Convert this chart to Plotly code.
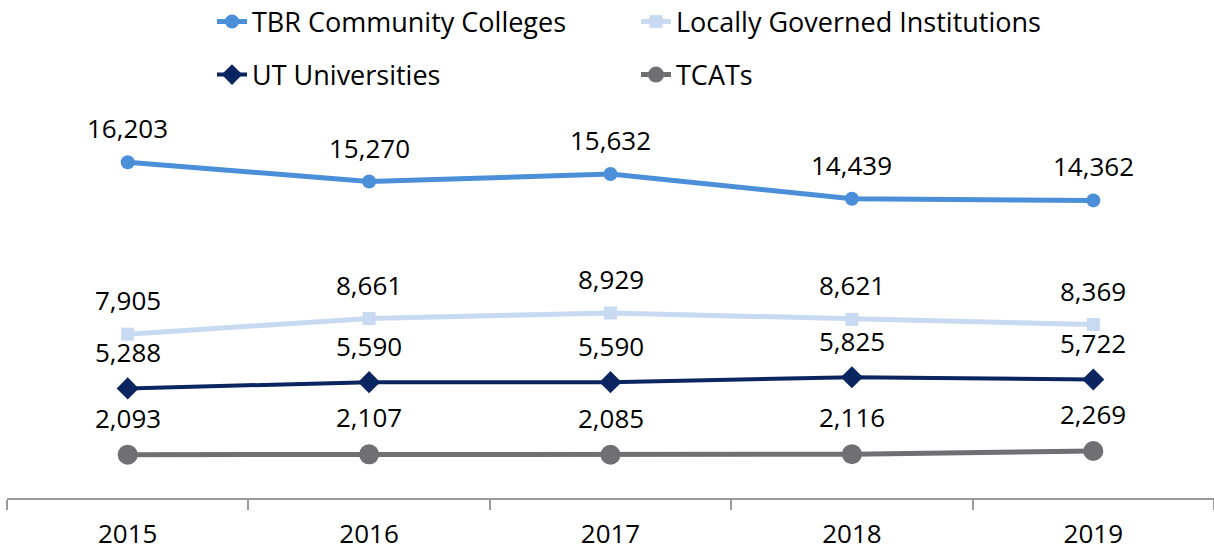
import plotly.graph_objects as go

years = ["2015", "2016", "2017", "2018", "2019"]
tbr = [16203, 15270, 15632, 14439, 14362]
local = [7905, 8661, 8929, 8621, 8369]
ut = [5288, 5590, 5590, 5825, 5722]
tcat = [2093, 2107, 2085, 2116, 2269]

series = [
    ("TBR Community Colleges", tbr, "#4A8FD8", "circle", 14, 5, "legend", 34),
    ("Locally Governed Institutions", local, "#C8DAF2", "square", 13, 5, "legend", 34),
    ("UT Universities", ut, "#0B2560", "diamond", 17, 4, "legend2", 36),
    ("TCATs", tcat, "#707074", "circle", 20, 5, "legend2", 37),
]

FONT = "Open Sans"
fig = go.Figure()
annotations = []
for name, vals, color, sym, msize, lw, leg, shift in series:
    fig.add_trace(go.Scatter(
        x=years, y=vals, name=name, mode="lines+markers",
        line=dict(color=color, width=lw),
        marker=dict(color=color, symbol=sym, size=msize),
        legend=leg, cliponaxis=False,
    ))
    for i, yv in enumerate(vals):
        annotations.append(dict(
            x=i, y=yv, xref="x", yref="y", text=f"{yv:,}",
            showarrow=False, yshift=shift, yanchor="middle",
            font=dict(family=FONT, size=26, color="#000000"),
        ))

leg_common = dict(orientation="h", xref="container", yref="container",
                  x=212/1214, xanchor="left", yanchor="middle",
                  entrywidth=379, entrywidthmode="pixels",
                  bgcolor="rgba(0,0,0,0)",
                  font=dict(family=FONT, size=27, color="#000000"))

fig.update_layout(
    width=1214, height=550,
    margin=dict(l=7, r=0, t=125, b=52),
    paper_bgcolor="white", plot_bgcolor="white",
    font=dict(family=FONT, size=26, color="#000000"),
    annotations=annotations,
    legend=dict(leg_common, y=1-22/550),
    legend2=dict(leg_common, y=1-75/550),
    xaxis=dict(type="category", range=[-0.5, 4.5], showgrid=False,
               showline=True, linecolor="#9a9a9a", linewidth=1.5,
               ticks="outside", tickson="boundaries", ticklen=10,
               tickcolor="#9a9a9a", tickwidth=1.5, ticklabelstandoff=12,
               tickfont=dict(family=FONT, size=26, color="#000000")),
    yaxis=dict(range=[0, 18000], visible=False, showgrid=False, zeroline=False),
)

fig.write_html("out.html")
